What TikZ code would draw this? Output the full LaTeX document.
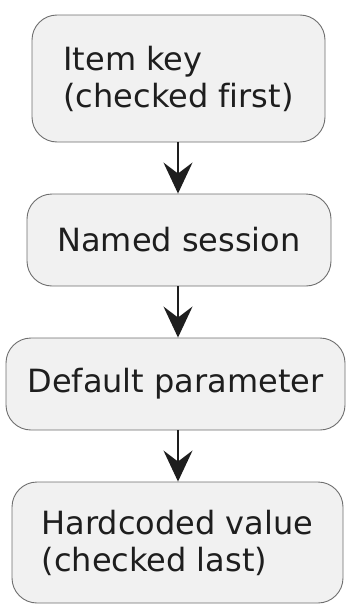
\documentclass[tikz,border=0pt]{standalone}
\usepackage{fontspec}
\setmainfont[Ligatures={NoCommon}]{DejaVu Sans}
\usetikzlibrary{arrows.meta}
\definecolor{boxfill}{HTML}{F1F1F1}
\definecolor{boxline}{HTML}{6E6E6E}
\definecolor{txt}{HTML}{1E1E1E}
\tikzset{
  actbox/.style={draw=boxline, line width=0.9pt, fill=boxfill, rounded corners=25pt,
    inner sep=0pt, align=left, text=txt, font=\fontsize{32}{37}\selectfont},
  flow/.style={draw=txt, line width=1.4pt, -{Stealth[length=31pt,width=29pt,inset=11pt]}}
}
\begin{document}
\begin{tikzpicture}[x=1pt,y=1pt]
\useasboundingbox (0,0) rectangle (347,-605);
\node[actbox, minimum width=293pt, minimum height=127pt] (b1) at (178.5,-78.5) {Item key\\(checked first)};
\node[actbox, minimum width=304pt, minimum height=92pt] (b2) at (179,-240) {Named session};
\node[actbox, minimum width=339pt, minimum height=92pt] (b3) at (175.5,-384) {Default parameter};
\node[actbox, minimum width=331pt, minimum height=121pt] (b4) at (177.5,-542.5) {Hardcoded value\\(checked last)};
\coordinate (ax) at (178,0);
\draw[flow] (ax |- b1.south) -- (ax |- b2.north);
\draw[flow] (ax |- b2.south) -- (ax |- b3.north);
\draw[flow] (ax |- b3.south) -- (ax |- b4.north);
\end{tikzpicture}
\end{document}
